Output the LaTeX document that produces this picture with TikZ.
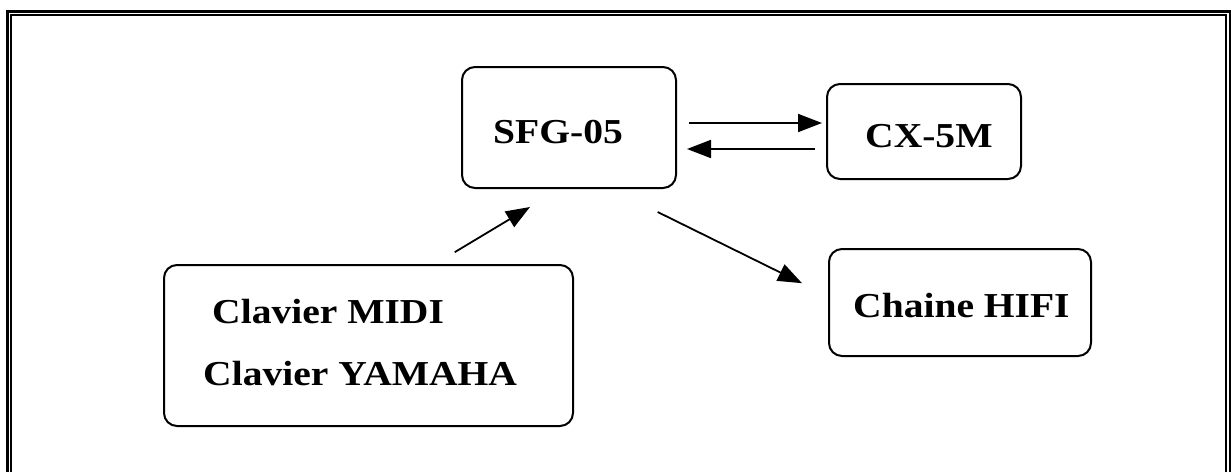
\documentclass[tikz,border=0pt]{standalone}
\usepackage{fontspec}
\newfontfamily\lbl[FakeStretch=1.13]{Liberation Serif}
\usetikzlibrary{arrows.meta,calc}
\begin{document}
\begin{tikzpicture}[x=1pt,y=-1pt,
  box/.style={draw,line width=2pt,rounded corners=13pt,inner sep=0pt},
  lab/.style={anchor=base west,inner sep=0pt,font=\lbl\bfseries\fontsize{35}{40}\selectfont},
  arr/.style={line width=1.8pt,-{Triangle[length=24pt,width=18pt]}}]
\useasboundingbox (0,0) rectangle (1231,471);
% frame
\draw[line width=3pt] (7.5,480) -- (7.5,11.5) -- (1230,11.5) -- (1230,480);
\draw[line width=2pt] (11,480) -- (11,15) -- (1226,15) -- (1226,480);
% boxes
\node[box,minimum width=214pt,minimum height=121pt] (sfg) at (569,127.5) {};
\node[box,minimum width=194pt,minimum height=95pt] (cx) at (924,131.5) {};
\node[box,minimum width=262pt,minimum height=107pt] (hifi) at (960,302.5) {};
\node[box,minimum width=409pt,minimum height=161pt] (clav) at (368.5,345.5) {};
% labels
\node[lab] (t1) at (493,143) {SFG-05};
\node[lab] (t2) at (865,147) {CX-5M};
\node[lab] (t3) at (853,317) {Chaine HIFI};
\node[lab] (t4) at (212,323) {Clavier MIDI};
\node[lab] (t5) at (203,385) {Clavier YAMAHA};
% connectors
\coordinate (r1) at (0,123);
\coordinate (r2) at (0,149);
\draw[arr,shorten <=12pt,shorten >=4pt] (sfg.east |- r1) -- (cx.west |- r1);
\draw[arr,shorten <=11pt,shorten >=10pt] (cx.west |- r2) -- (sfg.east |- r2);
\draw[arr,shorten <=23pt,shorten >=35pt] ($(clav.north west)+(272,0)$) -- ($(sfg.south west)+(99,0)$);
\draw[arr,shorten <=52pt,shorten >=29pt] ($(sfg.south west)+(150,0)$) -- ($(hifi.north west)+(0,48)$);
\end{tikzpicture}
\end{document}
